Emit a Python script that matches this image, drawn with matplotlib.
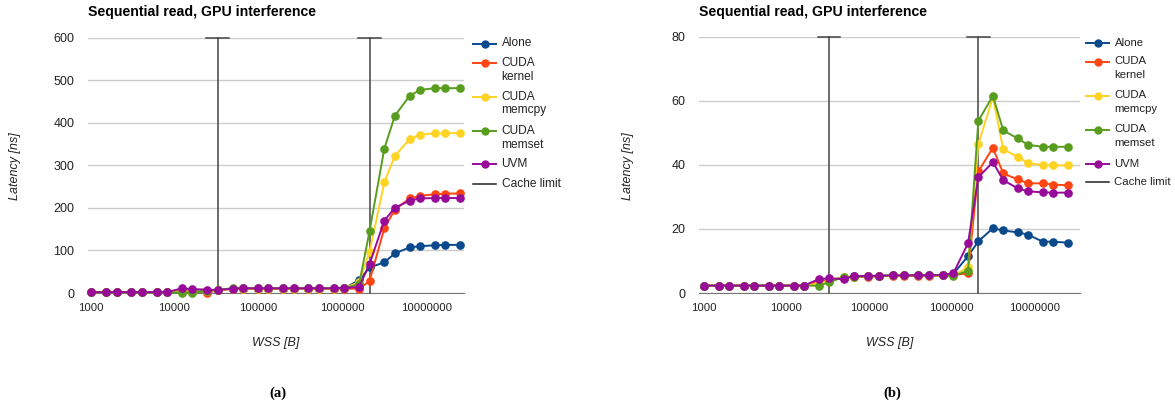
import matplotlib
matplotlib.use("Agg")
import matplotlib.pyplot as plt
from matplotlib.lines import Line2D
from matplotlib.ticker import FixedLocator, FixedFormatter, NullLocator

W, H = 1175, 407

# working set sizes in bytes
wss = [1024, 1536, 2048, 3072, 4096, 6144, 8192, 12288, 16384, 24576,
       32768, 49152, 65536, 98304, 131072, 196608, 262144, 393216, 524288, 786432,
       1048576, 1572864, 2097152, 3145728, 4194304, 6291456, 8388608, 12582912, 16777216, 25165824]
cache_limits = [32768, 2097152]

series_names = ["Alone", "CUDA\nkernel", "CUDA\nmemcpy", "CUDA\nmemset", "UVM"]
series_colors = ["#0a4a8c", "#ff4512", "#ffd324", "#589d1e", "#980a98"]

# (a) latency [ns]
alone_a = [2, 2, 2, 2, 2, 2, 2, 4, 4, 5, 7, 10, 10, 10, 10, 10, 10, 10, 10, 10, 11, 30, 60, 72, 93, 107, 110, 112, 113, 113]
kernel_a = [2, 2, 2, 2, 2, 2, 2, 4, 4, 1, 6, 10, 10, 10, 10, 10, 10, 10, 10, 10, 10, 10, 28, 152, 196, 222, 228, 232, 233, 234]
memcpy_a = [2, 2, 2, 2, 2, 2, 2, 3, 3, 4, 6, 10, 10, 10, 10, 10, 10, 10, 10, 10, 12, 25, 96, 260, 322, 361, 372, 375, 375, 376]
memset_a = [2, 2, 2, 2, 2, 2, 2, 1, 1, 4, 8, 11, 11, 11, 11, 11, 11, 11, 11, 11, 12, 20, 145, 339, 416, 463, 477, 481, 481, 481]
uvm_a = [2, 2, 2, 2, 2, 2, 2, 11, 9, 8, 7, 10, 11, 11, 11, 11, 11, 11, 11, 11, 12, 14, 68, 170, 200, 217, 222, 223, 223, 223]

# (b) latency [ns]
alone_b = [2.3, 2.3, 2.3, 2.3, 2.3, 2.3, 2.3, 2.3, 2.3, 3.5, 4.0, 4.8, 5.2, 5.2, 5.3, 5.5, 5.5, 5.5, 5.5, 5.6, 6.0, 11.5, 16.1, 20.2, 19.5, 18.9, 18.2, 16.0, 16.0, 15.7]
kernel_b = [2.3, 2.3, 2.3, 2.3, 2.3, 2.3, 2.3, 2.3, 2.3, 3.5, 4.0, 4.8, 5.0, 5.1, 5.2, 5.4, 5.4, 5.4, 5.4, 5.5, 5.6, 6.1, 37.9, 45.3, 37.3, 35.4, 34.2, 34.2, 33.8, 33.6]
memcpy_b = [2.3, 2.3, 2.3, 2.3, 2.3, 2.3, 2.3, 2.3, 2.3, 3.0, 3.8, 4.9, 5.1, 5.2, 5.3, 5.5, 5.5, 5.5, 5.5, 5.5, 5.5, 8.0, 46.5, 61.0, 44.8, 42.5, 40.5, 39.9, 39.8, 39.8]
memset_b = [2.3, 2.3, 2.3, 2.3, 2.3, 2.3, 2.3, 2.3, 2.3, 2.3, 3.3, 5.0, 5.0, 5.2, 5.3, 5.5, 5.5, 5.5, 5.5, 5.5, 5.3, 7.0, 53.7, 61.5, 50.7, 48.2, 46.2, 45.6, 45.6, 45.6]
uvm_b = [2.3, 2.3, 2.3, 2.3, 2.3, 2.3, 2.3, 2.3, 2.3, 4.3, 4.6, 4.3, 5.3, 5.3, 5.4, 5.5, 5.5, 5.5, 5.5, 5.6, 6.2, 15.5, 36.1, 40.8, 35.2, 32.6, 31.7, 31.4, 31.3, 31.3]

x_ticks = [1000, 10000, 100000, 1000000, 10000000]
x_ticklabels = ["1000", "10000", "100000", "1000000", "10000000"]
y_ticks_a = [0, 100, 200, 300, 400, 500, 600]
y_ticks_b = [0, 20, 40, 60, 80]

title = "Sequential read, GPU interference"

plt.rcParams["font.family"] = ["Liberation Sans", "DejaVu Sans"]


def fx(x):
    return x / W


def fy(y):
    return 1 - y / H


fig = plt.figure(figsize=(W / 100, H / 100), dpi=100)


def panel(rect, data, yticks, xlim, ylabel_x, tag, tag_x, leg_x, leg_fs):
    left, top, right, bottom = rect
    ax = fig.add_axes([fx(left), fy(bottom), fx(right - left), (bottom - top) / H])
    ax.set_xscale("log")
    ax.set_xlim(*xlim)
    ax.set_ylim(yticks[0], yticks[-1])
    ax.xaxis.set_major_locator(FixedLocator(x_ticks))
    ax.xaxis.set_major_formatter(FixedFormatter(x_ticklabels))
    ax.xaxis.set_minor_locator(NullLocator())
    ax.set_yticks(yticks)
    ax.grid(axis="y", color="#cccccc", lw=1)
    ax.set_axisbelow(True)
    for s in ["top", "right", "left"]:
        ax.spines[s].set_visible(False)
    ax.spines["bottom"].set_color("#777777")
    ax.spines["bottom"].set_zorder(1)
    ax.tick_params(length=0, colors="#222222")
    ax.tick_params(axis="x", pad=7.5, labelsize=8.2)
    ax.tick_params(axis="y", pad=9.5, labelsize=9)

    # cache limits
    top_y = yticks[-1]
    for c in cache_limits:
        ax.plot([c, c], [0, top_y], color="#444444", lw=1.1, zorder=2, clip_on=False)
        ax.plot([c / 10 ** 0.135, c * 10 ** 0.135], [top_y, top_y], color="#444444",
                lw=1.1, zorder=2, clip_on=False)

    for vals, col in zip(data, series_colors):
        ax.plot(wss, vals, color=col, lw=1.4, marker="o", ms=5.2, zorder=3, clip_on=False)

    fig.text(fx(left), fy(12), title, fontsize=10.2, fontweight="bold", va="center", ha="left")
    fig.text(fx(ylabel_x), fy(166), "Latency [ns]", rotation=90, style="italic",
             fontsize=9, va="center", ha="center", color="#222222")
    fig.text(fx((left + right) / 2), fy(343), "WSS [B]", style="italic",
             fontsize=9, va="center", ha="center", color="#222222")
    fig.text(fx(tag_x), fy(393), tag, family=["Liberation Serif", "DejaVu Serif"],
             fontweight="bold", fontsize=10.5, va="center", ha="center")

    # legend, drawn by hand so wrapped labels keep the symbol on the first line
    y = top + 6
    for name, col in zip(series_names, series_colors):
        fig.add_artist(Line2D([fx(leg_x), fx(leg_x + 11.5), fx(leg_x + 23)], [fy(y)] * 3,
                              color=col, lw=1.4, marker="o", ms=5, markevery=[1]))
        lines = name.split("\n")
        for k, t in enumerate(lines):
            fig.text(fx(leg_x + 28.5), fy(y + 14 * k), t, fontsize=leg_fs, va="center",
                     ha="left", color="#222222")
        y += 19 + 14 * (len(lines) - 1) + (1 if len(lines) > 1 else 0)
    fig.add_artist(Line2D([fx(leg_x), fx(leg_x + 23)], [fy(y)] * 2, color="#222222", lw=1.1))
    fig.text(fx(leg_x + 28.5), fy(y), "Cache limit", fontsize=leg_fs, va="center",
             ha="left", color="#222222")
    return ax


panel((87.5, 37.5, 464, 293), [alone_a, kernel_a, memcpy_a, memset_a, uvm_a], y_ticks_a,
      (1024 / 10 ** 0.045, 25165824 * 10 ** 0.045), 15, "(a)", 278, 473, 8.6)
panel((699, 36.5, 1080, 293), [alone_b, kernel_b, memcpy_b, memset_b, uvm_b], y_ticks_b,
      (1024 / 10 ** 0.066, 25165824 * 10 ** 0.15), 628, "(b)", 892, 1086, 8.2)

fig.savefig("out.png", dpi=100)
